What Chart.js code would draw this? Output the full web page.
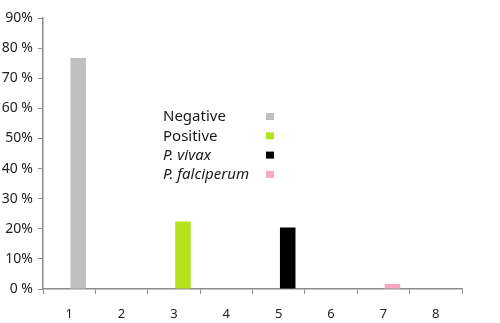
<!DOCTYPE html>
<html>
<head>
<meta charset="utf-8">
<script src="https://cdn.jsdelivr.net/npm/chart.js@4/dist/chart.umd.min.js"></script>
<style>
  html, body { margin: 0; padding: 0; background: #fff; }
  #wrap { width: 500px; height: 323px; }
</style>
</head>
<body>
<div id="wrap"><canvas id="grafico"></canvas></div>
<script>
// categorias y valores (%)
const categories = ['1', '2', '3', '4', '5', '6', '7', '8'];
const values = [76.7, null, 22.4, null, 20.4, null, 1.7, null];
const barColors = ['#c0c0c0', null, '#b4e21e', null, '#000000', null, '#f6a9c2', null];
const yTickLabels = ['0 %', '10%', '20%', '30 %', '40 %', '50%', '60 %', '70 %', '80 %', '90%'];

// leyenda
const legendLabels = ['Negative', 'Positive', 'P. vivax', 'P. falciperum'];
const legendItalic = [false, false, true, true];
const legendColors = ['#c0c0c0', '#b4e21e', '#000000', '#f6a9c2'];

const FONT = '"Noto Sans", "Open Sans", sans-serif';

// leyenda dibujada dentro del área del gráfico
const insideLegend = {
  id: 'insideLegend',
  afterDraw(chart) {
    const ctx = chart.ctx;
    const area = chart.chartArea;
    const x0 = area.left + 120;
    const boxX = area.left + 223;
    const y0 = area.top + 99;
    const step = 19.3;
    ctx.save();
    ctx.textBaseline = 'middle';
    legendLabels.forEach((lbl, i) => {
      const y = y0 + i * step;
      ctx.font = (legendItalic[i] ? 'italic ' : '') + '15px ' + FONT;
      ctx.fillStyle = '#1a1a1a';
      ctx.fillText(lbl, x0, y);
      ctx.fillStyle = legendColors[i];
      ctx.fillRect(boxX, y - 4, 8, 7);
    });
    ctx.restore();
  }
};

const ctx = document.getElementById('grafico').getContext('2d');
new Chart(ctx, {
  type: 'bar',
  data: {
    labels: categories,
    datasets: [
      { label: 'spacer', data: categories.map(() => null) },
      {
        label: 'Resultado',
        data: values,
        backgroundColor: barColors
      }
    ]
  },
  options: {
    responsive: true,
    maintainAspectRatio: false,
    animation: false,
    categoryPercentage: 0.69,
    barPercentage: 0.86,
    layout: { padding: { top: 18, right: 38, left: 0, bottom: 0 } },
    plugins: {
      legend: { display: false },
      tooltip: { enabled: false }
    },
    scales: {
      x: {
        afterFit: s => { s.height = 34; },
        grid: {
          display: true,
          drawOnChartArea: false,
          color: '#8c8c8c',
          tickLength: 5
        },
        border: { color: '#8c8c8c', width: 1.5 },
        ticks: {
          color: '#222',
          padding: 12,
          font: { family: FONT, size: 13 }
        }
      },
      y: {
        min: 0,
        max: 90,
        afterFit: s => { s.width = 43; },
        grid: {
          display: true,
          drawOnChartArea: false,
          color: '#8c8c8c',
          tickLength: 5
        },
        border: { color: '#8c8c8c', width: 1.5 },
        ticks: {
          stepSize: 10,
          color: '#222',
          padding: 5,
          font: { family: FONT, size: 14 },
          callback: (v, i) => yTickLabels[i]
        }
      }
    }
  },
  plugins: [insideLegend]
});
</script>
</body>
</html>
